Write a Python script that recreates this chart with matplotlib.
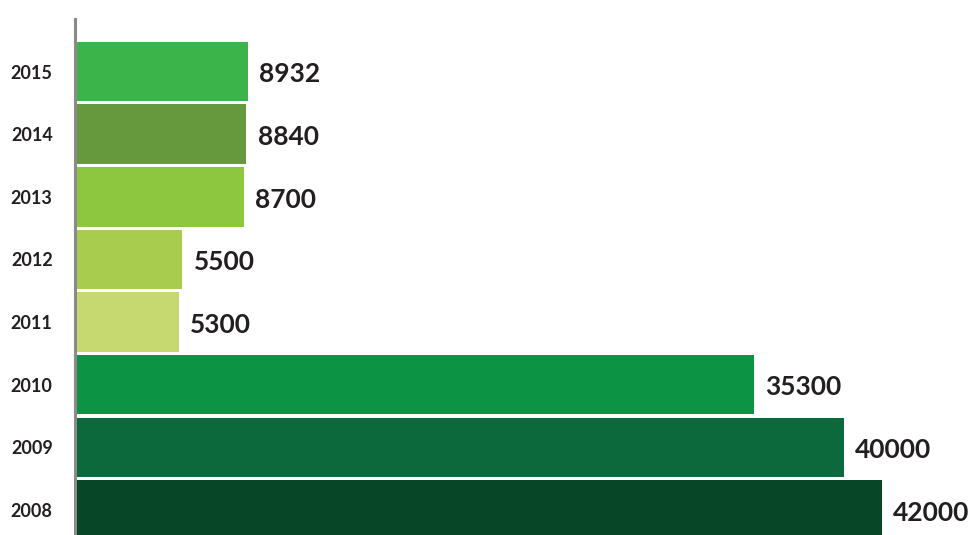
import matplotlib
matplotlib.use("Agg")
import matplotlib.pyplot as plt

years = ["2008", "2009", "2010", "2011", "2012", "2013", "2014", "2015"]
values = [42000, 40000, 35300, 5300, 5500, 8700, 8840, 8932]
colors = ["#074626", "#0c693b", "#0c9444", "#c5d970", "#a8cd4e", "#8dc63f", "#66983e", "#3bb54a"]

plt.rcParams['font.family'] = ['Lato', 'DejaVu Sans']
plt.rcParams['font.weight'] = 'bold'

fig = plt.figure(figsize=(9.74, 5.35), dpi=100)
ax = fig.add_axes([77/974, 0, 897/974, 1 - 19/535])

pos = list(range(len(years)))
ax.barh(pos, values, height=0.95, color=colors, left=0)
ax.set_ylim(-0.40, 7.84)
ax.set_xlim(0, 897/805*42000)

for p, v in zip(pos, values):
    ax.annotate(f"{v}", xy=(v, p), xytext=(8, -2), textcoords="offset points",
                ha="left", va="center", fontsize=19, fontweight="bold", color="#231f20")

ax.tick_params(axis="y", length=0, pad=16, labelsize=13, labelcolor="#231f20")
ax.set_yticks(pos)
ax.set_yticklabels(years)
ax.set_xticks([])
for s in ["top", "right", "bottom"]:
    ax.spines[s].set_visible(False)
ax.spines["left"].set_color("#8a8a8a")
ax.spines["left"].set_linewidth(2.2)
ax.spines["left"].set_position(("outward", 1.5))

fig.savefig("out.png", dpi=100)
